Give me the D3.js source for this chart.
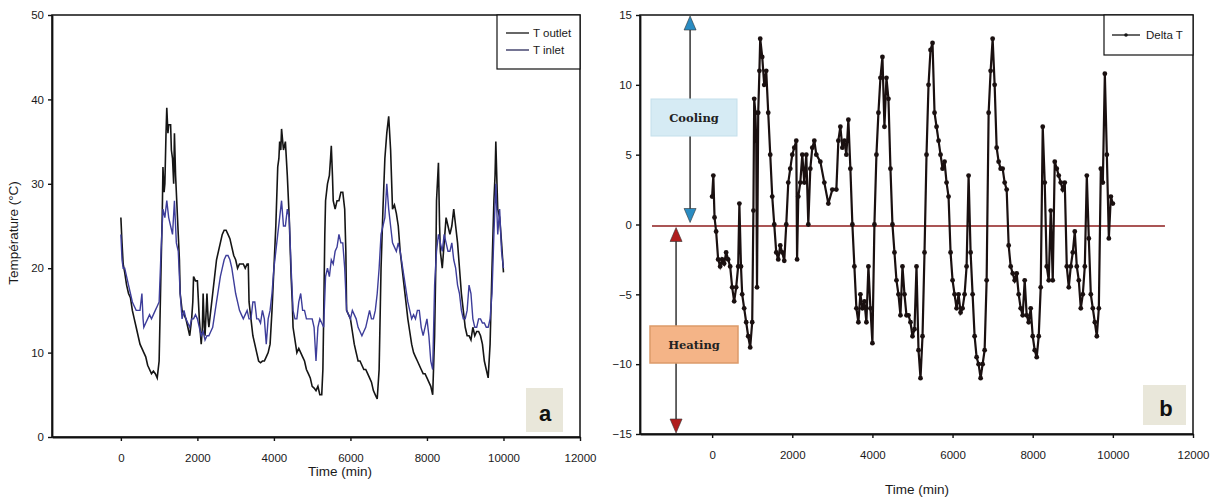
<!DOCTYPE html>
<html>
<head>
<meta charset="utf-8">
<script src="https://cdn.jsdelivr.net/npm/d3@7"></script>
<style>
  body { margin: 0; background: #fff; }
</style>
</head>
<body>
<div class="canvas"></div>
<script>
// tick values
const xTicks = [0, 2000, 4000, 6000, 8000, 10000, 12000];
const yTicksA = [0, 10, 20, 30, 40, 50];
const yTicksB = [-15, -10, -5, 0, 5, 10, 15];

// T outlet, [time (min), temperature]
const tOutlet = [
  [0, 26], [30, 23], [60, 20.5], [100, 19.5], [150, 18], [200, 17], [250, 16.5], [300, 15], [350, 14], [400, 13],
  [450, 12], [500, 11], [550, 10.5], [600, 10], [650, 9.5], [700, 8.5], [750, 8], [800, 7.5], [850, 7.8], [900, 7.5],
  [950, 7], [1000, 9], [1050, 20], [1080, 26], [1100, 32], [1130, 29], [1150, 30], [1180, 36], [1200, 39], [1230, 36],
  [1250, 37], [1300, 37], [1320, 34], [1350, 33], [1380, 30], [1400, 36], [1430, 31], [1450, 29], [1500, 24], [1530, 21],
  [1550, 17], [1600, 15], [1650, 14.5], [1700, 14], [1750, 13], [1800, 12], [1850, 14], [1880, 16], [1900, 19], [1950, 18.5],
  [2000, 18.5], [2050, 14], [2100, 11], [2130, 13], [2150, 17], [2180, 13], [2200, 12], [2230, 15], [2250, 17], [2280, 14],
  [2300, 13], [2350, 15], [2400, 17], [2450, 19], [2500, 21], [2550, 22], [2600, 23], [2650, 24], [2700, 24.5], [2750, 24.5],
  [2800, 24], [2850, 23.5], [2900, 22.5], [2950, 21.5], [3000, 21], [3050, 20], [3100, 20.5], [3200, 20.5], [3250, 20], [3300, 20.5],
  [3330, 20.5], [3350, 16], [3400, 14], [3450, 12], [3500, 11], [3550, 10], [3600, 9], [3650, 8.8], [3700, 9], [3750, 9],
  [3800, 9.5], [3850, 10], [3900, 11], [3950, 15], [4000, 20], [4050, 25], [4100, 32], [4130, 33], [4150, 35], [4180, 34],
  [4200, 36.5], [4250, 34], [4300, 35], [4350, 31], [4400, 26], [4450, 19], [4480, 16], [4500, 13], [4550, 11.5], [4600, 10],
  [4650, 10.5], [4700, 10], [4750, 9.5], [4800, 9], [4850, 8], [4900, 7.5], [4950, 7], [5000, 6], [5050, 5.8], [5100, 5.5],
  [5150, 6], [5200, 5], [5250, 5], [5280, 8], [5300, 14], [5330, 24], [5350, 28], [5400, 30], [5450, 31], [5480, 33],
  [5500, 34.5], [5530, 31], [5550, 28], [5600, 27], [5650, 28], [5700, 28], [5750, 29], [5800, 29], [5850, 27], [5880, 22],
  [5900, 15], [5950, 14.5], [6000, 14], [6050, 12.5], [6100, 11], [6150, 10], [6200, 9], [6250, 9], [6300, 8.5], [6350, 8],
  [6400, 8], [6450, 7.5], [6500, 7], [6550, 6.5], [6600, 5.5], [6650, 5], [6700, 4.5], [6750, 8], [6800, 20], [6850, 27],
  [6900, 33], [6950, 36], [7000, 38], [7050, 34], [7100, 27], [7150, 27.5], [7200, 26.5], [7250, 25], [7300, 22], [7350, 20],
  [7400, 18], [7450, 16], [7500, 14], [7550, 12.5], [7600, 11], [7650, 10], [7700, 9.5], [7750, 9], [7800, 8.5], [7850, 8],
  [7900, 7.5], [7950, 7.5], [8000, 7], [8050, 6.5], [8100, 6], [8150, 5], [8200, 12], [8230, 20], [8250, 28], [8300, 32.5],
  [8330, 25], [8350, 22], [8400, 20], [8450, 23], [8500, 26], [8550, 25], [8600, 24], [8650, 25], [8700, 27], [8750, 25],
  [8800, 23], [8850, 20], [8900, 17], [8950, 15], [9000, 13], [9050, 12], [9100, 12], [9150, 11.5], [9200, 13], [9250, 12],
  [9300, 12.5], [9350, 12.5], [9400, 12], [9450, 11], [9500, 9], [9550, 8], [9600, 7], [9650, 11], [9700, 20], [9750, 28],
  [9780, 31], [9800, 35], [9830, 30], [9850, 27], [9900, 26], [9950, 23], [10000, 19.5]
];

// T inlet, [time (min), temperature]
const tInlet = [
  [0, 24], [30, 21], [60, 20], [100, 20], [150, 19], [200, 18], [250, 17], [300, 16], [350, 15.5], [400, 15],
  [450, 15], [500, 15], [550, 17], [580, 14], [600, 13], [650, 13.5], [700, 14], [750, 14.5], [800, 14], [850, 14.5],
  [900, 15], [950, 15.5], [1000, 16], [1050, 22], [1100, 27], [1150, 26], [1200, 28], [1250, 26], [1300, 25], [1350, 24],
  [1400, 28], [1450, 23], [1500, 22], [1550, 17], [1600, 14], [1650, 15], [1700, 14], [1750, 13.5], [1800, 13], [1850, 14],
  [1900, 14], [1950, 14.5], [2000, 14], [2050, 13], [2100, 12], [2150, 12.5], [2200, 11.5], [2250, 12], [2300, 12], [2350, 12.5],
  [2400, 13], [2450, 14.5], [2500, 16], [2550, 17.5], [2600, 19], [2650, 20], [2700, 21], [2750, 21.5], [2800, 21.5], [2850, 21],
  [2900, 20], [2950, 18.5], [3000, 17], [3050, 16], [3100, 15], [3150, 14.5], [3200, 14], [3250, 14.5], [3300, 15], [3350, 14],
  [3400, 14], [3450, 16], [3500, 16], [3550, 14], [3600, 14], [3650, 13.5], [3700, 15], [3750, 14], [3800, 11], [3850, 14],
  [3900, 15], [3950, 17], [4000, 20], [4050, 22], [4100, 24], [4150, 26], [4200, 28], [4250, 25], [4300, 25], [4350, 27],
  [4400, 26], [4450, 20], [4500, 15], [4550, 14], [4600, 14], [4650, 16], [4700, 17], [4750, 15], [4800, 15], [4850, 14],
  [4900, 14], [4950, 14], [5000, 14], [5050, 13], [5100, 9], [5150, 13], [5200, 14], [5250, 13.5], [5300, 13], [5350, 19],
  [5400, 20], [5450, 19], [5500, 21], [5550, 20.5], [5600, 22], [5650, 22.5], [5700, 24], [5750, 23], [5800, 23], [5850, 20],
  [5900, 15], [5950, 14.5], [6000, 14], [6050, 15], [6100, 14.5], [6150, 14], [6200, 13], [6250, 12.5], [6300, 12], [6350, 12.5],
  [6400, 13], [6450, 14], [6500, 15], [6550, 14], [6600, 14], [6650, 15], [6700, 17], [6750, 20], [6800, 24], [6850, 25],
  [6900, 26], [6950, 30], [7000, 27], [7050, 25], [7100, 23], [7150, 22.5], [7200, 22], [7250, 23], [7300, 22], [7350, 20.5],
  [7400, 19], [7450, 17.5], [7500, 16], [7550, 15], [7600, 14], [7650, 14.5], [7700, 14], [7750, 15], [7800, 15], [7850, 13],
  [7900, 12], [7950, 13], [8000, 14], [8050, 12], [8100, 9], [8150, 8], [8200, 18], [8250, 22], [8300, 24], [8350, 23],
  [8400, 22], [8450, 24], [8500, 23], [8550, 22], [8600, 22], [8650, 23], [8700, 21], [8750, 20], [8800, 18], [8850, 17],
  [8900, 15], [8950, 14], [9000, 14], [9050, 15], [9100, 18], [9150, 17], [9200, 14], [9250, 13], [9300, 13], [9350, 14],
  [9400, 14], [9450, 13.5], [9500, 13.5], [9550, 13], [9600, 13], [9650, 14], [9700, 17], [9750, 24], [9800, 30], [9850, 24],
  [9900, 27], [9950, 22], [10000, 20]
];

// Delta T, [time (min), degC]
const deltaT = [
  [0, 2], [30, 3.5], [60, 0.5], [100, -0.5], [150, -2.5], [200, -3], [250, -2.5], [300, -2.8], [350, -2], [400, -2.5],
  [450, -3], [500, -4.5], [550, -5.5], [600, -4.5], [650, -3], [680, 1.5], [720, -3], [750, -5], [800, -6], [850, -7],
  [900, -8], [950, -8.8], [1000, -7], [1030, 1], [1050, 9], [1080, 8], [1100, 6], [1120, -4.5], [1150, 8], [1180, 11],
  [1200, 13.3], [1250, 12], [1300, 10], [1350, 11], [1400, 8], [1450, 5], [1500, 2], [1550, 0], [1600, -2], [1650, -2.5],
  [1700, -1.5], [1750, -2], [1800, -2.6], [1850, 0], [1900, 3], [1950, 4], [2000, 5], [2050, 5.5], [2100, 6], [2120, -2.5],
  [2150, 2], [2200, 3], [2250, 5], [2300, 3], [2350, 5], [2400, 0], [2450, 4], [2500, 5.5], [2550, 6], [2600, 5],
  [2700, 4.5], [2800, 3], [2900, 1.5], [3000, 2.5], [3100, 2.5], [3150, 6], [3200, 7], [3250, 5.5], [3300, 6], [3350, 5],
  [3400, 7.5], [3450, 4], [3500, 0], [3550, -3], [3600, -6], [3650, -7], [3700, -5], [3750, -6], [3800, -5.5], [3850, -7],
  [3900, -3], [3950, -6], [4000, -8.5], [4050, 0], [4100, 5], [4150, 8], [4200, 10.5], [4250, 12], [4300, 7], [4350, 10.5],
  [4400, 9], [4450, 4], [4500, 0], [4550, -2], [4600, -4], [4650, -5], [4700, -6.5], [4750, -3], [4800, -5], [4850, -6.5],
  [4900, -6.5], [4950, -7], [5000, -8], [5050, -7.5], [5100, -3], [5150, -9], [5200, -11], [5250, -8], [5300, -2], [5350, 5],
  [5400, 10], [5450, 12.5], [5500, 13], [5550, 8], [5600, 7], [5650, 6], [5700, 5], [5750, 4], [5800, 4.5], [5850, 3],
  [5900, 2], [5950, -2], [6000, -4], [6050, -5], [6100, -6], [6150, -5], [6200, -6.3], [6250, -6], [6300, -5], [6350, -3],
  [6400, 3.5], [6450, -2], [6500, -5], [6550, -8], [6600, -9.5], [6650, -10], [6700, -11], [6750, -10], [6800, -9], [6850, -4],
  [6900, 8], [6950, 11], [7000, 13.3], [7050, 10], [7100, 5.5], [7150, 4.5], [7200, 4], [7250, 4], [7300, 3], [7350, 2.5],
  [7400, -1.5], [7450, -3], [7500, -3.5], [7550, -4], [7600, -3.5], [7650, -5], [7700, -6], [7750, -6.5], [7800, -4], [7850, -6.5],
  [7900, -7], [7950, -6], [8000, -8], [8050, -9], [8100, -9.5], [8150, -8], [8200, -4.5], [8250, 7], [8300, 3], [8350, -3],
  [8400, -4], [8450, 1], [8500, -4], [8550, 4.5], [8600, 4], [8650, 3.5], [8700, 3], [8750, 2.5], [8800, 3], [8850, -3],
  [8900, -4.5], [8950, -3], [9000, -2], [9050, -0.5], [9100, -3], [9150, -4], [9200, -6], [9250, -5], [9300, -3], [9350, 3.5],
  [9400, -1], [9450, -5], [9500, -6], [9550, -7], [9600, -8], [9650, -6], [9700, 4], [9750, 3], [9800, 10.8], [9850, 5],
  [9900, -1], [9950, 2], [10000, 1.5]
];

const w = 1215;
const h = 501;
const sansFont = "'Liberation Sans Narrow', 'Liberation Sans', Arial, sans-serif";
const serifFont = "'DejaVu Serif', 'Liberation Serif', serif";

const svg = d3.select(".canvas").append("svg")
  .attr("width", w).attr("height", h)
  .attr("font-family", sansFont);

// panel frames (pixel boxes)
const pa = { left: 52, right: 580, top: 15, bottom: 437 };
const pb = { left: 640, right: 1193, top: 15, bottom: 434 };

// scales
const xA = d3.scaleLinear().domain([-1800, 12000]).range([pa.left, pa.right]);
const yA = d3.scaleLinear().domain([0, 50]).range([pa.bottom, pa.top]);
const xB = d3.scaleLinear().domain([-1800, 12000]).range([pb.left, pb.right]);
const yB = d3.scaleLinear().domain([-15, 15]).range([pb.bottom, pb.top]);

function styleAxis(g) {
  g.attr("font-family", sansFont).attr("font-size", 11.5);
  g.selectAll("path").attr("stroke", "#111").attr("stroke-width", 1.8);
  g.selectAll("line").attr("stroke", "#111").attr("stroke-width", 1.4);
  g.selectAll("text").attr("fill", "#1a1a1a");
}

// ---------- panel a ----------
svg.append("rect")
  .attr("x", pa.left).attr("y", pa.top)
  .attr("width", pa.right - pa.left).attr("height", pa.bottom - pa.top)
  .attr("fill", "none").attr("stroke", "#111").attr("stroke-width", 1.5);

svg.append("g")
  .attr("transform", `translate(0, ${pa.bottom})`)
  .call(d3.axisBottom(xA).tickValues(xTicks).tickFormat(d3.format("d")).tickSize(4).tickPadding(13).tickSizeOuter(0))
  .call(styleAxis);

svg.append("g")
  .attr("transform", `translate(${pa.left}, 0)`)
  .call(d3.axisLeft(yA).tickValues(yTicksA).tickFormat(d3.format("d")).tickSize(4).tickPadding(4).tickSizeOuter(0))
  .call(styleAxis);

const lineA = d3.line().x((d) => xA(d[0])).y((d) => yA(d[1]));

svg.append("path").datum(tOutlet).attr("d", lineA)
  .attr("fill", "none").attr("stroke", "#151515").attr("stroke-width", 1.6);
svg.append("path").datum(tInlet).attr("d", lineA)
  .attr("fill", "none").attr("stroke", "#3d3d9a").attr("stroke-width", 1.4);

svg.append("text")
  .attr("x", (pa.left + pa.right) / 2 + 24).attr("y", 476)
  .attr("text-anchor", "middle").attr("font-size", 13.5).attr("fill", "#1a1a1a")
  .text("Time (min)");

svg.append("text")
  .attr("transform", "translate(18, 233) rotate(-90)")
  .attr("text-anchor", "middle").attr("font-size", 13.5).attr("fill", "#1a1a1a")
  .text("Température (°C)");

// legend a
const legA = svg.append("g").attr("transform", "translate(497, 15)");
legA.append("rect").attr("width", 83).attr("height", 54)
  .attr("fill", "#fff").attr("stroke", "#111").attr("stroke-width", 1.2);
legA.append("line").attr("x1", 9).attr("x2", 32).attr("y1", 18).attr("y2", 18)
  .attr("stroke", "#151515").attr("stroke-width", 1.3);
legA.append("line").attr("x1", 9).attr("x2", 32).attr("y1", 35).attr("y2", 35)
  .attr("stroke", "#2a2a5a").attr("stroke-width", 1.3);
legA.append("text").attr("x", 36).attr("y", 22).attr("font-size", 11.5).attr("fill", "#1a1a1a").text("T outlet");
legA.append("text").attr("x", 36).attr("y", 39).attr("font-size", 11.5).attr("fill", "#1a1a1a").text("T inlet");

// label a
svg.append("rect").attr("x", 526).attr("y", 388).attr("width", 37).attr("height", 44).attr("fill", "#e9e7da");
svg.append("text").attr("x", 545).attr("y", 421).attr("text-anchor", "middle")
  .attr("font-size", 22).attr("font-weight", "bold").attr("fill", "#111")
  .attr("font-family", "'Liberation Sans', Arial, sans-serif").text("a");

// ---------- panel b ----------
svg.append("rect")
  .attr("x", pb.left).attr("y", pb.top)
  .attr("width", pb.right - pb.left).attr("height", pb.bottom - pb.top)
  .attr("fill", "none").attr("stroke", "#111").attr("stroke-width", 1.5);

svg.append("g")
  .attr("transform", `translate(0, ${pb.bottom})`)
  .call(d3.axisBottom(xB).tickValues(xTicks).tickFormat(d3.format("d")).tickSize(4).tickPadding(13).tickSizeOuter(0))
  .call(styleAxis);

svg.append("g")
  .attr("transform", `translate(${pb.left}, 0)`)
  .call(d3.axisLeft(yB).tickValues(yTicksB).tickFormat(d3.format("d")).tickSize(4).tickPadding(4).tickSizeOuter(0))
  .call(styleAxis);

// zero line
svg.append("line")
  .attr("x1", xB(-1500)).attr("x2", xB(11300))
  .attr("y1", yB(-0.1)).attr("y2", yB(-0.1))
  .attr("stroke", "#8e1c1c").attr("stroke-width", 1.5);

// cooling / heating arrows
const arrowX1 = xB(-550);
const arrowX2 = xB(-900);
svg.append("line").attr("x1", arrowX1).attr("x2", arrowX1)
  .attr("y1", yB(14)).attr("y2", yB(1)).attr("stroke", "#333").attr("stroke-width", 1.5);
svg.append("line").attr("x1", arrowX2).attr("x2", arrowX2)
  .attr("y1", yB(-1)).attr("y2", yB(-14)).attr("stroke", "#333").attr("stroke-width", 1.5);

function tri(x, yTip, dir, fill) {
  const hw = 6, ht = 14;
  const yb = yTip + dir * ht;
  svg.append("path")
    .attr("d", `M${x},${yTip} L${x - hw},${yb} L${x + hw},${yb} Z`)
    .attr("fill", fill).attr("stroke", "#333").attr("stroke-width", 0.6);
}
tri(arrowX1, yB(15) + 1, 1, "#2a8cc2");
tri(arrowX1, yB(0) - 2, -1, "#2a8cc2");
tri(arrowX2, yB(0) + 3, 1, "#b01e1e");
tri(arrowX2, yB(-15) - 1, -1, "#b01e1e");

// cooling / heating boxes
svg.append("rect").attr("x", 651).attr("y", 99).attr("width", 86).attr("height", 37)
  .attr("fill", "#d6ebf4").attr("stroke", "#c4dfeb").attr("stroke-width", 1);
svg.append("text").attr("x", 694).attr("y", 122).attr("text-anchor", "middle")
  .attr("font-family", serifFont)
  .attr("font-size", 11.5).attr("font-weight", "bold").attr("fill", "#222").text("Cooling");

svg.append("rect").attr("x", 650).attr("y", 326).attr("width", 88).attr("height", 37)
  .attr("fill", "#f4b487").attr("stroke", "#dc9a6a").attr("stroke-width", 1.5);
svg.append("text").attr("x", 694).attr("y", 349).attr("text-anchor", "middle")
  .attr("font-family", serifFont)
  .attr("font-size", 11.5).attr("font-weight", "bold").attr("fill", "#222").text("Heating");

// delta T series
const lineB = d3.line().x((d) => xB(d[0])).y((d) => yB(d[1]));
svg.append("path").datum(deltaT).attr("d", lineB)
  .attr("fill", "none").attr("stroke", "#1a1010").attr("stroke-width", 2.2);
svg.append("g").selectAll("circle")
  .data(deltaT)
  .enter()
  .append("circle")
  .attr("cx", (d) => xB(d[0]))
  .attr("cy", (d) => yB(d[1]))
  .attr("r", 2.4)
  .attr("fill", "#1a1010");

svg.append("text")
  .attr("x", 917).attr("y", 494)
  .attr("text-anchor", "middle").attr("font-size", 13.5).attr("fill", "#1a1a1a")
  .text("Time (min)");

// legend b
const legB = svg.append("g").attr("transform", "translate(1104, 15)");
legB.append("rect").attr("width", 89).attr("height", 40)
  .attr("fill", "#fff").attr("stroke", "#111").attr("stroke-width", 1.2);
legB.append("line").attr("x1", 8).attr("x2", 36).attr("y1", 20).attr("y2", 20)
  .attr("stroke", "#151515").attr("stroke-width", 1.3);
legB.append("circle").attr("cx", 22).attr("cy", 20).attr("r", 1.8).attr("fill", "#151515");
legB.append("text").attr("x", 42).attr("y", 24).attr("font-size", 11.5).attr("fill", "#1a1a1a").text("Delta T");

// label b
svg.append("rect").attr("x", 1143).attr("y", 385).attr("width", 43).attr("height", 40).attr("fill", "#e9e7da");
svg.append("text").attr("x", 1166).attr("y", 416).attr("text-anchor", "middle")
  .attr("font-size", 22).attr("font-weight", "bold").attr("fill", "#111")
  .attr("font-family", "'Liberation Sans', Arial, sans-serif").text("b");
</script>
</body>
</html>
